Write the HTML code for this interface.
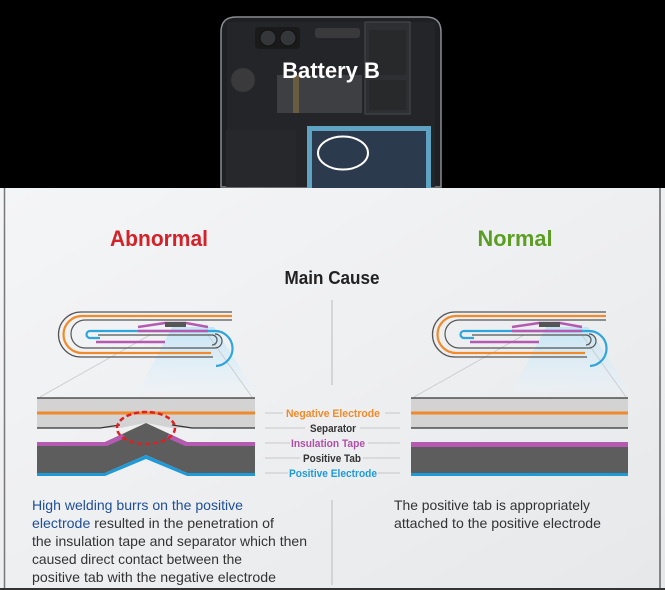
<!DOCTYPE html>
<html><head><meta charset="utf-8"><style>
html,body{margin:0;padding:0;background:#000;}
svg{display:block;}
text{font-family:"Liberation Sans",sans-serif;}
</style></head><body>
<svg width="665" height="590" viewBox="0 0 665 590" xmlns="http://www.w3.org/2000/svg">
<defs>
<linearGradient id="bg" x1="0" y1="0" x2="1" y2="1">
<stop offset="0" stop-color="#f4f5f6"/><stop offset="0.5" stop-color="#eeeff1"/><stop offset="1" stop-color="#e6e8ea"/>
</linearGradient>
<linearGradient id="fan" x1="0" y1="0" x2="0" y2="1">
<stop offset="0" stop-color="#bfe3f5" stop-opacity="0.9"/><stop offset="1" stop-color="#e8f4fb" stop-opacity="0.3"/>
</linearGradient>
<g id="coil" fill="none">
<path d="M172,327 L138,392 L256,392 L214,327 Z" fill="url(#fan)" stroke="none"/>
<line x1="150" y1="335" x2="40" y2="397" stroke="#c8c8c8" stroke-width="0.8"/>
<line x1="208" y1="335" x2="252" y2="397" stroke="#c8c8c8" stroke-width="0.8"/>
<path d="M232,312 H81 A22.5,22.5 0 0 0 81,357 H213" stroke="#555" stroke-width="1.3"/>
<path d="M232,316 H82 A18.5,18.5 0 0 0 82,353 H211" stroke="#f08a2a" stroke-width="2.2"/>
<path d="M232,320 H85 A14,14 0 0 0 85,348 H215 A7,7 0 0 0 215,334" stroke="#555" stroke-width="1.2"/>
<path d="M100,338 H90 A3.5,3.5 0 0 1 90,331 H214 A17,17 0 0 1 216,366" stroke="#2ea6dc" stroke-width="2.2"/>
<path d="M98,335 H212 A5,5 0 0 1 212,345" stroke="#555" stroke-width="1.2"/>
<path d="M138,327 L165,323 H186 L208,327" stroke="#b45ab0" stroke-width="2.5"/>
<rect x="165" y="322" width="21" height="5" fill="#555"/>
<line x1="138" y1="331" x2="208" y2="331" stroke="#b45ab0" stroke-width="2.5"/>
<line x1="96" y1="342" x2="165" y2="342" stroke="#b45ab0" stroke-width="2.5"/>
</g>
</defs>
<rect x="0" y="0" width="665" height="188" fill="#000"/>
<!-- phone -->
<path d="M221,187 V32 Q221,17 236,17 H426 Q441,17 441,32 V187 Z" fill="#1f2023" stroke="#8a8c90" stroke-width="1.5"/>
<rect x="227" y="22" width="208" height="165" fill="#242528"/>
<rect x="255" y="27" width="45" height="22" rx="4" fill="#1a1a1a"/>
<circle cx="268" cy="38" r="8" fill="#34363a" stroke="#111"/><circle cx="288" cy="38" r="8" fill="#34363a" stroke="#111"/>
<rect x="315" y="28" width="45" height="10" rx="3" fill="#3a3a3c"/>
<rect x="365" y="22" width="45" height="92" fill="#2e2f32" stroke="#4a4a4c"/>
<rect x="369" y="30" width="37" height="45" fill="#28292b"/><rect x="369" y="80" width="37" height="30" fill="#28292b"/>
<circle cx="243" cy="80" r="12" fill="#3a3a3c"/>
<rect x="277" y="75" width="85" height="38" fill="#3e3f42"/>
<rect x="293" y="75" width="6" height="38" fill="#6a5c40"/>
<rect x="226" y="130" width="70" height="57" fill="#27282b"/>
<rect x="307" y="126" width="124" height="62" fill="#5ea3c2"/>
<rect x="312" y="131" width="114" height="57" fill="#2b3a4c"/>
<ellipse cx="343" cy="153" rx="25" ry="16.5" fill="none" stroke="#fff" stroke-width="2"/>
<text x="331" y="78" font-size="22" font-weight="bold" fill="#fff" text-anchor="middle">Battery B</text>
<!-- bottom panel -->
<rect x="0" y="188" width="665" height="402" fill="url(#bg)"/>
<line x1="4.5" y1="188" x2="4.5" y2="590" stroke="#777" stroke-width="1.5"/>
<line x1="660" y1="188" x2="660" y2="590" stroke="#666" stroke-width="1.5"/>
<line x1="0" y1="589" x2="665" y2="589" stroke="#333" stroke-width="2"/>
<line x1="332" y1="300" x2="332" y2="385" stroke="#bbb" stroke-width="1"/>
<line x1="332" y1="500" x2="332" y2="585" stroke="#bbb" stroke-width="1"/>
<text x="159" y="246" font-size="22" font-weight="bold" fill="#d2232a" text-anchor="middle" textLength="98" lengthAdjust="spacingAndGlyphs">Abnormal</text>
<text x="515" y="246" font-size="22" font-weight="bold" fill="#5c9e24" text-anchor="middle" textLength="75" lengthAdjust="spacingAndGlyphs">Normal</text>
<text x="332" y="284" font-size="18" font-weight="bold" fill="#222" text-anchor="middle" textLength="95" lengthAdjust="spacingAndGlyphs">Main Cause</text>
<use href="#coil"/>
<use href="#coil" x="374"/>
<!-- left block -->
<rect x="37" y="398" width="218" height="30" fill="#d3d3d3"/>
<line x1="37" y1="398" x2="255" y2="398" stroke="#333" stroke-width="1.2"/>
<line x1="37" y1="413" x2="255" y2="413" stroke="#f08a2a" stroke-width="3"/>
<path d="M37,428 H100 L120,425 M172,425 L192,428 H255" stroke="#333" stroke-width="1.2" fill="none"/>
<path d="M120,428 L146,423 L172,428 Z" fill="#eee"/>
<path d="M37,442 H105 L146,423 L187,442 H255 V473 H187 L146,455 L105,473 H37 Z" fill="#5d5d5d"/>
<path d="M37,442 H105 L123,434 L125,438 L107,446 H37 Z" fill="#b45ab0"/>
<path d="M255,442 H187 L169,434 L167,438 L185,446 H255 Z" fill="#b45ab0"/>
<path d="M37,473 H105 L146,455 L187,473 H255 V476 H187 L146,459 L105,476 H37 Z" fill="#1f9ad8"/>
<ellipse cx="146" cy="428" rx="29" ry="16" fill="none" stroke="#e02020" stroke-width="2.5" stroke-dasharray="5,3"/>
<!-- right block -->
<rect x="411" y="398" width="217" height="30" fill="#d3d3d3"/>
<line x1="411" y1="398" x2="628" y2="398" stroke="#333" stroke-width="1.2"/>
<line x1="411" y1="413" x2="628" y2="413" stroke="#f08a2a" stroke-width="3"/>
<line x1="411" y1="428" x2="628" y2="428" stroke="#333" stroke-width="1.2"/>
<rect x="411" y="442" width="217" height="5" fill="#b45ab0"/>
<rect x="411" y="447" width="217" height="26" fill="#5d5d5d"/>
<rect x="411" y="473" width="217" height="3" fill="#1f9ad8"/>
<!-- labels -->
<g stroke="#c8c8c8" stroke-width="1">
<line x1="265" y1="413" x2="283" y2="413"/><line x1="385" y1="413" x2="400" y2="413"/>
<line x1="265" y1="428" x2="305" y2="428"/><line x1="360" y1="428" x2="400" y2="428"/>
<line x1="265" y1="443" x2="290" y2="443"/><line x1="368" y1="443" x2="400" y2="443"/>
<line x1="265" y1="458" x2="300" y2="458"/><line x1="363" y1="458" x2="400" y2="458"/>
<line x1="265" y1="473" x2="288" y2="473"/><line x1="378" y1="473" x2="400" y2="473"/>
</g>
<g font-size="11" font-weight="bold" text-anchor="middle">
<text x="333" y="417" fill="#f08a2a" textLength="94" lengthAdjust="spacingAndGlyphs">Negative Electrode</text>
<text x="333" y="432" fill="#333" textLength="46" lengthAdjust="spacingAndGlyphs">Separator</text>
<text x="328" y="447" fill="#b04ea8" textLength="74" lengthAdjust="spacingAndGlyphs">Insulation Tape</text>
<text x="332" y="462" fill="#333" textLength="58" lengthAdjust="spacingAndGlyphs">Positive Tab</text>
<text x="333" y="477" fill="#1f9ad8" textLength="88" lengthAdjust="spacingAndGlyphs">Positive Electrode</text>
</g>
<g font-size="14" fill="#333">
<text x="32" y="510" fill="#1f4e96" textLength="211" lengthAdjust="spacingAndGlyphs">High welding burrs on the positive</text>
<text x="32" y="528" textLength="242" lengthAdjust="spacingAndGlyphs"><tspan fill="#1f4e96">electrode</tspan> resulted in the penetration of</text>
<text x="32" y="546" textLength="275" lengthAdjust="spacingAndGlyphs">the insulation tape and separator which then</text>
<text x="32" y="564" textLength="210" lengthAdjust="spacingAndGlyphs">caused direct contact between the</text>
<text x="32" y="582" textLength="244" lengthAdjust="spacingAndGlyphs">positive tab with the negative electrode</text>
<text x="394" y="510" textLength="196" lengthAdjust="spacingAndGlyphs">The positive tab is appropriately</text>
<text x="394" y="528" textLength="207" lengthAdjust="spacingAndGlyphs">attached to the positive electrode</text>
</g>
</svg>
</body></html>
